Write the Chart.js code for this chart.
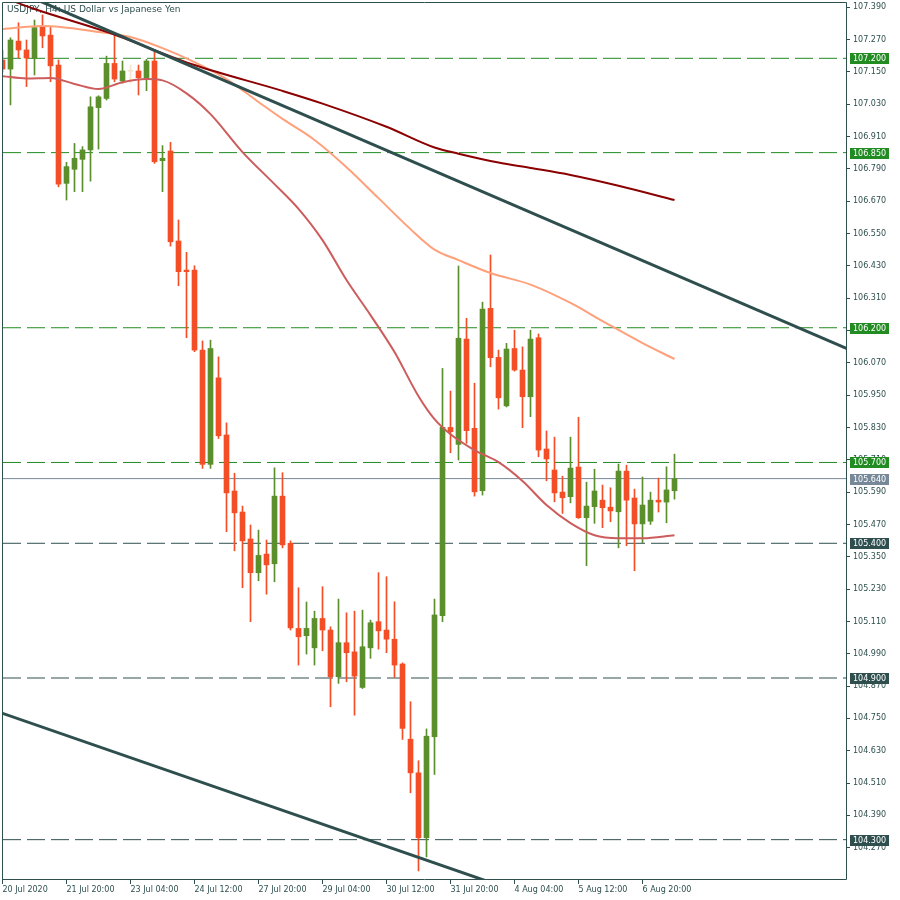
<!DOCTYPE html>
<html>
<head>
<meta charset="utf-8">
<script src="https://cdn.jsdelivr.net/npm/chart.js@4.4.1/dist/chart.umd.min.js"></script>
<style>
  html, body { margin: 0; padding: 0; background: #fff; }
</style>
</head>
<body>
<canvas id="myChart" width="900" height="900"></canvas>
<script>
// USDJPY H4 candles, bar 0 = 20 Jul 2020 12:00
const opens = [107.194, 107.160, 107.264, 107.231, 107.200, 107.317, 107.286, 107.175, 106.736, 106.788,
  106.825, 106.860, 107.017, 107.051, 107.181, 107.116, 107.152, 107.153, 107.126, 107.190,
  106.820, 106.856, 106.522, 106.414, 106.414, 106.117, 105.693, 106.014, 105.802, 105.594,
  105.516, 105.416, 105.291, 105.360, 105.324, 105.575, 105.400, 105.084, 105.057, 105.012,
  105.121, 105.078, 104.905, 105.031, 104.997, 104.865, 105.012, 105.109, 105.078, 105.044,
  104.952, 104.673, 104.548, 104.307, 104.682, 105.131, 105.830, 105.767, 106.158, 105.827,
  105.595, 106.272, 106.090, 105.910, 106.123, 106.043, 105.944, 106.163, 105.750, 105.672,
  105.590, 105.573, 105.683, 105.495, 105.536, 105.560, 105.534, 105.517, 105.668, 105.568,
  105.472, 105.482, 105.560, 105.553, 105.595];
const highs = [107.231, 107.276, 107.332, 107.268, 107.342, 107.361, 107.317, 107.194, 106.814, 106.884,
  106.872, 107.057, 107.061, 107.208, 107.293, 107.190, 107.175, 107.175, 107.196, 107.224,
  106.876, 106.888, 106.600, 106.480, 106.430, 106.151, 106.154, 106.092, 105.847, 105.660,
  105.538, 105.468, 105.449, 105.412, 105.680, 105.662, 105.409, 105.235, 105.182, 105.148,
  105.239, 105.090, 105.193, 105.142, 105.148, 105.152, 105.115, 105.291, 105.276, 105.183,
  104.956, 104.812, 104.593, 104.711, 105.193, 106.049, 105.965, 106.429, 106.235, 105.994,
  106.295, 106.470, 106.117, 106.142, 106.191, 106.129, 106.191, 106.177, 105.817, 105.794,
  105.649, 105.794, 105.868, 105.627, 105.675, 105.616, 105.606, 105.694, 105.690, 105.601,
  105.646, 105.590, 105.642, 105.684, 105.731];
const lows = [107.149, 107.027, 107.201, 107.095, 107.138, 107.239, 107.113, 106.723, 106.674, 106.705,
  106.705, 106.744, 106.863, 107.045, 107.113, 107.108, 107.108, 107.064, 107.080, 106.810,
  106.705, 106.503, 106.356, 106.163, 106.111, 105.678, 105.678, 105.789, 105.443, 105.372,
  105.235, 105.109, 105.261, 105.211, 105.257, 105.383, 105.078, 104.948, 104.989, 104.948,
  105.001, 104.793, 104.880, 104.886, 104.762, 104.861, 104.973, 105.007, 104.994, 104.902,
  104.672, 104.474, 104.184, 104.236, 104.542, 105.109, 105.736, 105.709, 105.771, 105.575,
  105.579, 106.055, 105.898, 105.906, 106.039, 105.829, 105.870, 105.721, 105.632, 105.554,
  105.511, 105.550, 105.492, 105.317, 105.474, 105.458, 105.480, 105.383, 105.391, 105.298,
  105.402, 105.470, 105.516, 105.476, 105.564];
const closes = [107.160, 107.268, 107.231, 107.201, 107.314, 107.283, 107.172, 106.733, 106.798, 106.829,
  106.860, 107.020, 107.057, 107.181, 107.123, 107.153, 107.152, 107.128, 107.190, 106.816,
  106.829, 106.519, 106.408, 106.408, 106.117, 105.693, 106.123, 105.799, 105.587, 105.513,
  105.409, 105.291, 105.355, 105.320, 105.575, 105.394, 105.086, 105.053, 105.084, 105.121,
  105.078, 104.905, 105.031, 104.994, 104.907, 105.016, 105.105, 105.075, 105.044, 104.948,
  104.713, 104.548, 104.307, 104.684, 105.134, 105.830, 105.814, 106.161, 105.818, 105.591,
  106.269, 106.089, 105.940, 106.121, 106.043, 105.944, 106.158, 105.746, 105.713, 105.587,
  105.569, 105.679, 105.495, 105.538, 105.594, 105.532, 105.520, 105.668, 105.560, 105.472,
  105.542, 105.560, 105.553, 105.598, 105.640];

// moving averages, read at a few bars
const maSlowIdx = [0, 4, 13, 24, 35, 40, 48, 54, 57, 62, 66, 71, 77, 84];
const maSlowVal = [107.427, 107.383, 107.298, 107.175, 107.079, 107.032, 106.946, 106.869, 106.846, 106.813, 106.793, 106.767, 106.727, 106.674];
const maMidIdx = [0, 5, 12, 16, 20, 24, 28, 32, 35, 39, 43, 47, 51, 54, 57, 61, 66, 71, 75, 80, 84];
const maMidVal = [107.309, 107.320, 107.298, 107.279, 107.238, 107.186, 107.123, 107.038, 106.975, 106.897, 106.796, 106.681, 106.566, 106.490, 106.451, 106.403, 106.360, 106.292, 106.225, 106.143, 106.084];
const maFastIdx = [0, 3, 6, 9, 12, 15, 18, 20, 23, 26, 30, 34, 37, 40, 43, 46, 49, 52, 54, 56, 59, 62, 65, 68, 71, 74, 77, 80, 84];
const maFastVal = [107.134, 107.125, 107.127, 107.105, 107.086, 107.111, 107.123, 107.118, 107.070, 106.993, 106.852, 106.733, 106.641, 106.525, 106.377, 106.247, 106.110, 105.946, 105.861, 105.805, 105.746, 105.701, 105.631, 105.542, 105.475, 105.430, 105.419, 105.419, 105.430];

// trend lines
const trendUpIdx = [0, 110];
const trendUpVal = [107.472, 106.066];
const trendDownIdx = [0, 70];
const trendDownVal = [104.769, 104.049];

// horizontal levels
const levels = [107.200, 106.850, 106.200, 105.700, 105.400, 104.900, 104.300];
const levelLabels = ["107.200", "106.850", "106.200", "105.700", "105.400", "104.900", "104.300"];
const levelKinds = ["green", "green", "green", "green", "dark", "dark", "dark"];
const lastPrice = 105.640;
const lastPriceLabel = "105.640";

const xTickIdx = [0, 8, 16, 24, 32, 40, 48, 56, 64, 72, 80];
const xTickLabels = ["20 Jul 2020", "21 Jul 20:00", "23 Jul 04:00", "24 Jul 12:00", "27 Jul 20:00",
  "29 Jul 04:00", "30 Jul 12:00", "31 Jul 20:00", "4 Aug 04:00", "5 Aug 12:00", "6 Aug 20:00"];
const yTickLabels = ["107.390", "107.270", "107.150", "107.030", "106.910", "106.790", "106.670",
  "106.550", "106.430", "106.310", "106.190", "106.070", "105.950", "105.830", "105.710", "105.590",
  "105.470", "105.350", "105.230", "105.110", "104.990", "104.870", "104.750", "104.630", "104.510",
  "104.390", "104.270"];

const yMin = 104.154;
const yMax = 107.409;
const xMin = 0.0625;
const xMax = 105.5625;

const GREEN = '#5b8f2b';
const RED = '#f44e26';
const DOJI = '#f3e2cc';
const SLATE = '#2f4f4f';
const LEVEL_GREEN = '#228b22';
const FONT = '"DejaVu Sans", sans-serif';

const candleColors = opens.map((o, i) => closes[i] > o ? GREEN : (closes[i] < o ? RED : DOJI));

function toPoints(idx, vals) {
    return idx.map((x, i) => ({ x: x, y: vals[i] }));
}

const levelDatasets = levels.map((v, i) => ({
    type: 'line',
    data: [{ x: xMin, y: v }, { x: xMax, y: v }],
    borderColor: levelKinds[i] === 'green' ? LEVEL_GREEN : SLATE,
    borderWidth: 1,
    borderDash: [18, 6],
    pointRadius: 0,
    clip: 0,
    order: 10
}));

const titlePlugin = {
    id: 'titleText',
    beforeDatasetsDraw(chart) {
        const ctx = chart.ctx;
        ctx.save();
        ctx.font = '9px ' + FONT;
        ctx.fillStyle = SLATE;
        ctx.textBaseline = 'middle';
        ctx.fillText('USDJPY, H4: US Dollar vs Japanese Yen', 7, 9.5);
        ctx.restore();
    }
};

const framePlugin = {
    id: 'frameAndLabels',
    afterDraw(chart) {
        const ctx = chart.ctx;
        const a = chart.chartArea;
        const ys = chart.scales.y;
        ctx.save();
        ctx.strokeStyle = SLATE;
        ctx.lineWidth = 1;
        ctx.beginPath();
        ctx.moveTo(a.left - 0.5, a.top + 0.5);
        ctx.lineTo(a.right - 0.5, a.top + 0.5);
        ctx.lineTo(a.right - 0.5, a.bottom + 0.5);
        ctx.lineTo(a.left - 0.5, a.bottom + 0.5);
        ctx.closePath();
        ctx.stroke();

        ctx.font = '8px ' + FONT;
        ctx.textBaseline = 'middle';
        const drawBox = (v, text, bg) => {
            const y = Math.round(ys.getPixelForValue(v));
            ctx.fillStyle = bg;
            ctx.fillRect(a.right + 3, y - 5, 39, 11);
            ctx.fillStyle = '#ffffff';
            ctx.fillText(text, a.right + 6, y + 0.5);
        };
        levels.forEach((v, i) => drawBox(v, levelLabels[i], levelKinds[i] === 'green' ? LEVEL_GREEN : SLATE));
        drawBox(lastPrice, lastPriceLabel, '#778899');
        ctx.restore();
    }
};

const ctx = document.getElementById('myChart');

new Chart(ctx, {
    type: 'bar',
    data: {
        datasets: [
            ...levelDatasets,
            {
                type: 'line',
                data: [{ x: xMin, y: lastPrice }, { x: xMax, y: lastPrice }],
                borderColor: '#778899',
                borderWidth: 1,
                pointRadius: 0,
                clip: 0,
                order: 9
            },
            {
                data: opens.map((o, i) => ({ x: i, y: [lows[i], highs[i]] })),
                backgroundColor: candleColors,
                barThickness: 1,
                minBarLength: 1,
                grouped: false,
                clip: 0,
                order: 6
            },
            {
                data: opens.map((o, i) => ({ x: i, y: [o, closes[i]] })),
                backgroundColor: candleColors,
                barThickness: 5,
                minBarLength: 1,
                grouped: false,
                clip: 0,
                order: 5
            },
            {
                type: 'line',
                data: toPoints(maSlowIdx, maSlowVal),
                borderColor: '#8b0000',
                borderWidth: 2,
                pointRadius: 0,
                cubicInterpolationMode: 'monotone',
                clip: 0,
                order: 3
            },
            {
                type: 'line',
                data: toPoints(maMidIdx, maMidVal),
                borderColor: '#ffa07a',
                borderWidth: 2,
                pointRadius: 0,
                cubicInterpolationMode: 'monotone',
                clip: 0,
                order: 3
            },
            {
                type: 'line',
                data: toPoints(maFastIdx, maFastVal),
                borderColor: '#cd5c5c',
                borderWidth: 2,
                pointRadius: 0,
                cubicInterpolationMode: 'monotone',
                clip: 0,
                order: 3
            },
            {
                type: 'line',
                data: toPoints(trendUpIdx, trendUpVal),
                borderColor: SLATE,
                borderWidth: 3,
                pointRadius: 0,
                clip: 0,
                order: 1
            },
            {
                type: 'line',
                data: toPoints(trendDownIdx, trendDownVal),
                borderColor: SLATE,
                borderWidth: 3,
                pointRadius: 0,
                clip: 0,
                order: 1
            }
        ]
    },
    options: {
        responsive: false,
        animation: false,
        devicePixelRatio: 1,
        layout: { padding: { left: 3, top: 2, right: 0, bottom: 0 } },
        plugins: {
            legend: { display: false },
            tooltip: { enabled: false },
            title: { display: false }
        },
        scales: {
            x: {
                type: 'linear',
                min: xMin,
                max: xMax,
                offset: false,
                afterBuildTicks: s => { s.ticks = xTickIdx.map(v => ({ value: v })); },
                afterFit: s => { s.height = 21; s.paddingLeft = 0; s.paddingRight = 0; },
                ticks: {
                    callback: (v, i) => xTickLabels[i],
                    align: 'start',
                    autoSkip: false,
                    maxRotation: 0,
                    padding: 1,
                    color: SLATE,
                    font: { family: FONT, size: 8 }
                },
                grid: { drawOnChartArea: false, offset: false, tickLength: 5, color: SLATE },
                border: { display: false }
            },
            y: {
                position: 'right',
                min: yMin,
                max: yMax,
                afterBuildTicks: s => { s.ticks = yTickLabels.map(t => ({ value: parseFloat(t) })); },
                afterFit: s => { s.width = 53; s.paddingTop = 0; s.paddingBottom = 0; },
                ticks: {
                    callback: (v, i) => yTickLabels[i],
                    autoSkip: false,
                    padding: 3,
                    color: SLATE,
                    font: { family: FONT, size: 8 }
                },
                grid: { drawOnChartArea: false, tickLength: 3, color: SLATE },
                border: { display: false }
            }
        }
    },
    plugins: [titlePlugin, framePlugin]
});
</script>
</body>
</html>
